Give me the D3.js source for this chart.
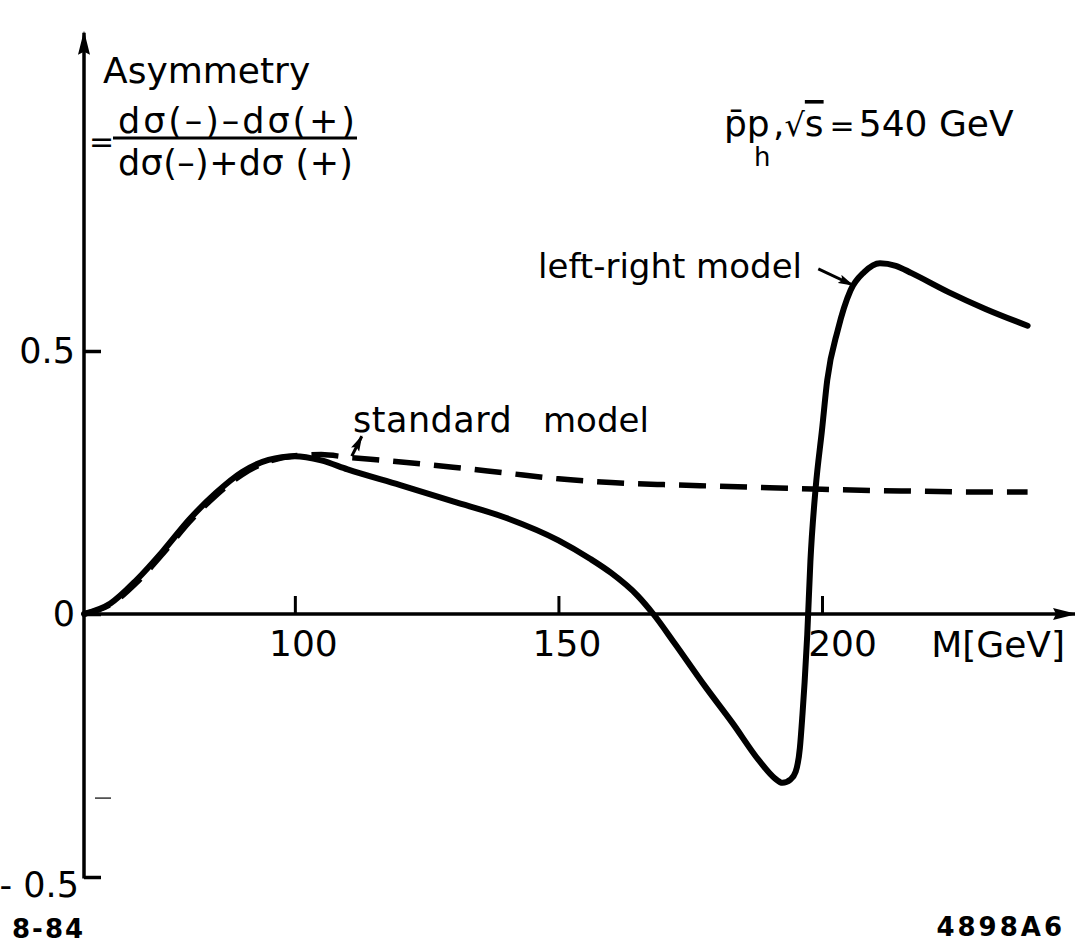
<!DOCTYPE html>
<html>
<head>
<meta charset="utf-8">
<script src="https://cdn.jsdelivr.net/npm/d3@7"></script>
<style>
  html, body { margin: 0; padding: 0; background: #fff; }
  svg { display: block; }
  text { font-family: "DejaVu Sans", sans-serif; fill: #000; }
</style>
</head>
<body>
<script>
// Forward-backward charge asymmetry vs. mass, pbar-p at sqrt(s) = 540 GeV

// Left-right model (solid curve)
const lrMass = [60, 65, 70, 75, 80, 85, 90, 95, 100, 105, 110, 120, 130, 140, 150, 156, 160, 165, 168, 172,
                178, 183, 188, 191, 192.5, 194, 195, 195.8, 196.3, 196.7, 197.2, 197.8, 198.8, 200, 201, 203,
                205.4, 208, 211, 214, 217, 224, 231, 239];
const lrAsym = [0, 0.02, 0.065, 0.12, 0.18, 0.23, 0.27, 0.293, 0.300, 0.292, 0.275, 0.245, 0.214, 0.183, 0.14, 0.105, 0.078, 0.035, 0, -0.055,
                -0.14, -0.207, -0.278, -0.312, -0.321, -0.315, -0.30, -0.255, -0.19, -0.13, -0.04, 0.10, 0.24, 0.35, 0.445, 0.54,
                0.615, 0.65, 0.667, 0.662, 0.648, 0.612, 0.58, 0.548];

// Standard model (dashed curve)
const smMass = [60, 65, 70, 75, 80, 85, 90, 95, 100, 105, 110, 118, 130, 140, 150, 160, 170, 180, 190, 200, 215, 230, 239];
const smAsym = [0, 0.018, 0.06, 0.115, 0.175, 0.225, 0.265, 0.29, 0.301, 0.303, 0.298, 0.291, 0.279, 0.268, 0.257, 0.25, 0.246, 0.243, 0.240, 0.237, 0.234, 0.232, 0.232];

// Axis ticks
const xTickValues = [100, 150, 200];
const xTickLabels = ["100", "150", "200"];
const yTickValues = [-0.5, 0, 0.5];
const yTickLabels = ["- 0.5", "0", "0.5"];

// Axis extents (data units)
const xAxisStart = 60, xAxisEnd = 248;
const yAxisTop = 1.105;

// Label arrows (data units): [from, to]
const lrArrow = [[199.3, 0.656], [205.9, 0.625]];
const smArrow = [[110.8, 0.300], [112.7, 0.338]];

const W = 1075, H = 944;
const svg = d3.select("body").append("svg").attr("width", W).attr("height", H);

const x = d3.scaleLinear().domain([60, 200]).range([84, 822]);
const y = d3.scaleLinear().domain([-0.5, 0.5]).range([877, 351]);

const defs = svg.append("defs");
defs.append("marker")
  .attr("id", "axisHead")
  .attr("markerUnits", "userSpaceOnUse")
  .attr("viewBox", "0 -7 24 14")
  .attr("refX", 22).attr("refY", 0)
  .attr("markerWidth", 24).attr("markerHeight", 14)
  .attr("orient", "auto")
  .append("path").attr("d", "M0,-6L24,0L0,6L3,0Z").attr("fill", "#000");
defs.append("marker")
  .attr("id", "noteHead")
  .attr("markerUnits", "userSpaceOnUse")
  .attr("viewBox", "0 -5 16 10")
  .attr("refX", 15).attr("refY", 0)
  .attr("markerWidth", 16).attr("markerHeight", 10)
  .attr("orient", "auto")
  .append("path").attr("d", "M0,-4.5L16,0L0,4.5L3,0Z").attr("fill", "#000");

// Axis lines with arrow heads
svg.append("line")
  .attr("x1", x(xAxisStart)).attr("y1", y(0))
  .attr("x2", x(xAxisEnd)).attr("y2", y(0))
  .attr("stroke", "#000").attr("stroke-width", 3.5)
  .attr("marker-end", "url(#axisHead)");
svg.append("line")
  .attr("x1", x(xAxisStart)).attr("y1", y(-0.5) + 1.5)
  .attr("x2", x(xAxisStart)).attr("y2", y(yAxisTop))
  .attr("stroke", "#000").attr("stroke-width", 3.5)
  .attr("marker-end", "url(#axisHead)");

// Y axis ticks and labels
const yAxis = svg.append("g")
  .attr("transform", `translate(${x(xAxisStart)},0)`)
  .call(d3.axisLeft(y).tickValues(yTickValues).tickSizeInner(-17).tickSizeOuter(0).tickPadding(9)
        .tickFormat((d, i) => yTickLabels[i]));
yAxis.select(".domain").remove();
yAxis.selectAll(".tick line").attr("stroke", "#000").attr("stroke-width", 3.5);
yAxis.selectAll(".tick text").attr("font-size", 35).attr("font-family", "DejaVu Sans").attr("fill", "#000");
yAxis.selectAll(".tick").filter(d => d === -0.5).select("text").attr("dy", "0.55em").attr("dx", 4);

// X axis ticks and labels
const xAxis = svg.append("g")
  .attr("transform", `translate(0,${y(0)})`)
  .call(d3.axisBottom(x).tickValues(xTickValues).tickSizeInner(-18).tickSizeOuter(0).tickPadding(16)
        .tickFormat((d, i) => xTickLabels[i]));
xAxis.select(".domain").remove();
xAxis.selectAll(".tick line").attr("stroke", "#000").attr("stroke-width", 3);
xAxis.selectAll(".tick text").attr("font-size", 36).attr("font-family", "DejaVu Sans").attr("fill", "#000")
  .attr("dx", (d) => d === 200 ? 20 : 8);

svg.append("text")
  .attr("x", x(xAxisEnd) - 10).attr("y", y(0) + 43)
  .attr("text-anchor", "end").attr("font-size", 36)
  .text("M[GeV]");

// Curves
const lineGen = d3.line().curve(d3.curveMonotoneX);

svg.append("path")
  .attr("d", lineGen(smMass.map((m, i) => [x(m), y(smAsym[i])])))
  .attr("fill", "none").attr("stroke", "#000").attr("stroke-width", 5.5)
  .attr("stroke-dasharray", "27 14").attr("stroke-linecap", "butt");

svg.append("path")
  .attr("d", lineGen(lrMass.map((m, i) => [x(m), y(lrAsym[i])])))
  .attr("fill", "none").attr("stroke", "#000").attr("stroke-width", 6)
  .attr("stroke-linecap", "round").attr("stroke-linejoin", "round");

// Curve labels and pointers
svg.append("text")
  .attr("x", 802).attr("y", 278).attr("text-anchor", "end").attr("font-size", 34)
  .text("left-right model");
svg.append("line")
  .attr("x1", x(lrArrow[0][0])).attr("y1", y(lrArrow[0][1]))
  .attr("x2", x(lrArrow[1][0])).attr("y2", y(lrArrow[1][1]))
  .attr("stroke", "#000").attr("stroke-width", 3)
  .attr("marker-end", "url(#noteHead)");

const smLabel = svg.append("text").attr("x", 353).attr("y", 432).attr("font-size", 35);
smLabel.append("tspan").attr("letter-spacing", 0.5).text("standard");
smLabel.append("tspan").attr("x", 543).attr("font-size", 34).text("model");
svg.append("line")
  .attr("x1", x(smArrow[0][0])).attr("y1", y(smArrow[0][1]))
  .attr("x2", x(smArrow[1][0])).attr("y2", y(smArrow[1][1]))
  .attr("stroke", "#000").attr("stroke-width", 3)
  .attr("marker-end", "url(#noteHead)");

// Y axis title with the asymmetry definition
svg.append("text").attr("x", 103).attr("y", 83).attr("font-size", 36).text("Asymmetry");
svg.append("text").attr("x", 89).attr("y", 152).attr("font-size", 30).text("=");
svg.append("text").attr("x", 118).attr("y", 133).attr("font-size", 35)
  .attr("textLength", 237).attr("lengthAdjust", "spacing")
  .text("dσ(–)–dσ(+)");
svg.append("line")
  .attr("x1", 113).attr("x2", 357).attr("y1", 138).attr("y2", 138)
  .attr("stroke", "#000").attr("stroke-width", 3);
svg.append("text").attr("x", 118).attr("y", 175).attr("font-size", 35)
  .attr("textLength", 235).attr("lengthAdjust", "spacing")
  .text("dσ(–)+dσ (+)");

// Beam / energy annotation
svg.append("text").attr("x", 724).attr("y", 136).attr("font-size", 36).text("p\u0304p");
svg.append("text").attr("x", 754).attr("y", 166).attr("font-size", 26).text("h");
const energy = svg.append("text").attr("x", 773).attr("y", 136).attr("font-size", 36);
energy.append("tspan").text(",");
energy.append("tspan").attr("font-size", 32).text("\u221A");
energy.append("tspan").attr("text-decoration", "overline").text("s");
energy.append("tspan").attr("font-size", 30).attr("dx", 6).text("=");
energy.append("tspan").attr("dx", 4).text("540 GeV");

// Small stray mark near the lower axis
svg.append("line")
  .attr("x1", x(xAxisStart) + 11).attr("x2", x(xAxisStart) + 27)
  .attr("y1", y(-0.35)).attr("y2", y(-0.35))
  .attr("stroke", "#333").attr("stroke-width", 1.5);

// Figure codes
svg.append("text").attr("x", 12).attr("y", 938).attr("font-size", 26).attr("font-weight", "bold")
  .attr("letter-spacing", 2).text("8-84");
svg.append("text").attr("x", 1065).attr("y", 936).attr("text-anchor", "end").attr("font-size", 26)
  .attr("font-weight", "bold").attr("letter-spacing", 3).text("4898A6");
</script>
</body>
</html>
